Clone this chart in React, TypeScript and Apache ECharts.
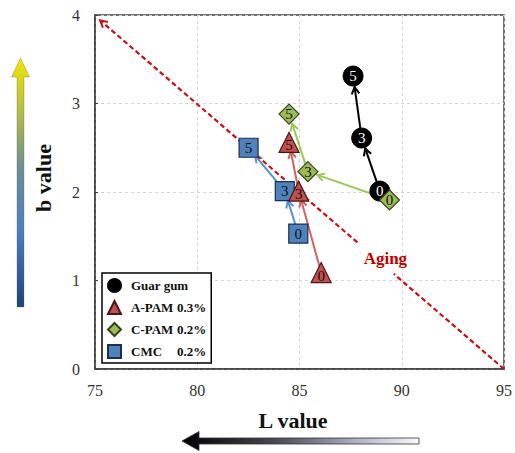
import React, { useEffect, useRef } from 'react';
import * as echarts from 'echarts';

// axis ranges / ticks
const xTicks = [75, 80, 85, 90, 95];
const yTicks = [0, 1, 2, 3, 4];

// storage days (labels in markers)
const days = [0, 3, 5];

// series values (L value, b value) for day 0, 3, 5
const guarL = [88.93, 88.04, 87.62];
const guarB = [2.01, 2.61, 3.31];
const apamL = [86.06, 84.96, 84.49];
const apamB = [1.09, 2.01, 2.56];
const cpamL = [89.4, 85.41, 84.49];
const cpamB = [1.91, 2.23, 2.88];
const cmcL = [84.94, 84.28, 82.51];
const cmcB = [1.53, 2.01, 2.5];

// "Aging" dashed trend line (with gap for the label)
const agingL = [95, 89.61, 87.83, 75.25];
const agingB = [0, 1.075, 1.43, 3.94];
const agingLabelPos = [89.2, 1.25];

const seriesNames = ['Guar gum', 'A-PAM 0.3%', 'C-PAM 0.2%', 'CMC 0.2%'];

const FONT = '"Liberation Serif", "Times New Roman", serif';

const arrowStyles = [
  { color: '#000000', width: 2, endGap: 11, head: true, dash: null as null | number[] },
  { color: '#d2625f', width: 2, endGap: 9, head: true, dash: null },
  { color: '#9dc75c', width: 2, endGap: 10, head: true, dash: null },
  { color: '#5a92d2', width: 2, endGap: 10, head: true, dash: null },
  { color: '#c80f14', width: 2.2, endGap: 0, head: false, dash: [5, 3] },
  { color: '#c80f14', width: 2.2, endGap: 0, head: true, dash: [5, 3] },
];

function segs(L: number[], B: number[], kind: number) {
  const out: number[][] = [];
  for (let i = 0; i < L.length - 1; i++) out.push([L[i], B[i], L[i + 1], B[i + 1], kind]);
  return out;
}

export default function App() {
  const ref = useRef<HTMLDivElement>(null);
  useEffect(() => {
    if (!ref.current) return;
    const chart = echarts.init(ref.current, undefined, { renderer: 'svg' });

    const arrowData = [
      ...segs(guarL, guarB, 0),
      ...segs(apamL, apamB, 1),
      ...segs(cpamL, cpamB, 2),
      ...segs(cmcL, cmcB, 3),
      [agingL[0], agingB[0], agingL[1], agingB[1], 4],
      [agingL[2], agingB[2], agingL[3], agingB[3], 5],
    ];

    const pts = (L: number[], B: number[]) => L.map((l, i) => [l, B[i], days[i]]);

    const labelBase = {
      show: true,
      position: 'inside' as const,
      formatter: (p: any) => String(p.value[2]),
      fontFamily: FONT,
      fontSize: 15,
    };

    const legText = { fontFamily: FONT, fontSize: 13, fontWeight: 'bold', color: '#111', lineHeight: 15 };

    const option: any = {
      animation: false,
      grid: {
        left: 95, right: 7, top: 15, bottom: 84,
        show: true, borderColor: '#404040', borderWidth: 1.5, backgroundColor: 'transparent',
      },
      xAxis: {
        type: 'value', min: xTicks[0], max: xTicks[xTicks.length - 1], interval: 5,
        axisLine: { show: true, lineStyle: { color: '#404040', width: 1.5 } },
        axisTick: { show: false },
        axisLabel: { fontFamily: FONT, fontSize: 16, color: '#333', margin: 13 },
        splitLine: { show: true, lineStyle: { color: '#d4d4d4', type: [3, 3], width: 1 } },
      },
      yAxis: {
        type: 'value', min: yTicks[0], max: yTicks[yTicks.length - 1], interval: 1,
        axisLine: { show: true, lineStyle: { color: '#404040', width: 1.5 } },
        axisTick: { show: true, inside: true, length: 3, lineStyle: { color: '#404040' } },
        axisLabel: { fontFamily: FONT, fontSize: 16, color: '#333', margin: 15 },
        splitLine: { show: true, lineStyle: { color: '#d4d4d4', type: [3, 3], width: 1 } },
      },
      legend: {
        data: seriesNames.map((n) => ({ name: n })),
        orient: 'vertical',
        left: 102, top: 273,
        padding: [5, 5, 4, 5],
        itemWidth: 13, itemHeight: 13, itemGap: 7,
        borderColor: '#000', borderWidth: 1.5, backgroundColor: '#fff',
        selectedMode: false,
        formatter: (name: string) => {
          if (name === 'Guar gum') return '{s|}{n|' + name + '}';
          const k = name.lastIndexOf(' ');
          return '{s|}{n|' + name.slice(0, k) + '}{v|' + name.slice(k + 1) + '}';
        },
        textStyle: {
          ...legText,
          rich: {
            s: { ...legText, width: 5 },
            n: { ...legText, width: 46 },
            v: { ...legText },
          },
        },
      },
      series: [
        {
          type: 'custom',
          name: 'arrows',
          z: 1,
          silent: true,
          encode: { x: [0, 2], y: [1, 3] },
          data: arrowData,
          renderItem: (_params: any, api: any) => {
            const k = api.value(4);
            const st = arrowStyles[k];
            const p1 = api.coord([api.value(0), api.value(1)]);
            const p2 = api.coord([api.value(2), api.value(3)]);
            const dx = p2[0] - p1[0];
            const dy = p2[1] - p1[1];
            const len = Math.hypot(dx, dy) || 1;
            const ux = dx / len;
            const uy = dy / len;
            const ex = p2[0] - ux * st.endGap;
            const ey = p2[1] - uy * st.endGap;
            const children: any[] = [
              {
                type: 'line',
                shape: { x1: p1[0], y1: p1[1], x2: ex, y2: ey },
                style: { stroke: st.color, lineWidth: st.width, lineDash: st.dash || undefined, fill: null },
              },
            ];
            if (st.head) {
              const hl = 7;
              const hw = 3.8;
              children.push({
                type: 'polyline',
                shape: {
                  points: [
                    [ex - ux * hl - uy * hw, ey - uy * hl + ux * hw],
                    [ex, ey],
                    [ex - ux * hl + uy * hw, ey - uy * hl - ux * hw],
                  ],
                },
                style: { stroke: st.color, lineWidth: 2, fill: null },
              });
            }
            return { type: 'group', children };
          },
        },
        {
          type: 'scatter',
          name: 'Guar gum',
          z: 3,
          symbol: 'circle',
          symbolSize: 20,
          itemStyle: { color: '#000', borderColor: '#000', borderWidth: 1, opacity: 1 },
          label: { ...labelBase, color: '#fff' },
          data: pts(guarL, guarB),
        },
        {
          type: 'scatter',
          name: 'CMC 0.2%',
          z: 4,
          symbol: 'rect',
          symbolSize: 19,
          itemStyle: { color: '#4f81bd', borderColor: '#1d2f4a', borderWidth: 1.2, opacity: 1 },
          label: { ...labelBase, color: '#111' },
          data: pts(cmcL, cmcB),
        },
        {
          type: 'scatter',
          name: 'A-PAM 0.3%',
          z: 5,
          symbol: 'triangle',
          symbolSize: 20,
          itemStyle: { color: '#c0504d', borderColor: '#4a1515', borderWidth: 1.2, opacity: 1 },
          label: { ...labelBase, color: '#111', offset: [0, 3] },
          data: pts(apamL, apamB),
        },
        {
          type: 'scatter',
          name: 'C-PAM 0.2%',
          z: 6,
          symbol: 'diamond',
          symbolSize: 20,
          itemStyle: { color: '#9bbb59', borderColor: '#35431a', borderWidth: 1.2, opacity: 1 },
          label: { ...labelBase, color: '#111' },
          data: pts(cpamL, cpamB),
        },
        {
          type: 'scatter',
          name: 'Aging',
          z: 2,
          silent: true,
          symbolSize: 1,
          itemStyle: { color: 'rgba(0,0,0,0)', opacity: 1 },
          label: {
            show: true, position: 'inside', formatter: 'Aging',
            fontFamily: FONT, fontSize: 17, fontWeight: 'bold', color: '#c00000',
          },
          data: [agingLabelPos],
        },
      ],
      graphic: [
        {
          type: 'polygon',
          shape: {
            points: [[17, 307], [24, 307], [24, 77], [29.5, 77], [20.5, 58], [11.5, 77], [17, 77]],
          },
          style: {
            fill: new echarts.graphic.LinearGradient(0, 1, 0, 0, [
              { offset: 0, color: '#1f4478' },
              { offset: 0.3, color: '#4a7fbf' },
              { offset: 0.55, color: '#6a8e98' },
              { offset: 0.75, color: '#a8b850' },
              { offset: 1, color: '#f4e600' },
            ]),
            stroke: 'rgba(90,90,60,0.5)',
            lineWidth: 0.6,
          },
        },
        {
          type: 'polygon',
          shape: {
            points: [[182, 441], [199, 431.5], [199, 438], [419, 438], [419, 444], [199, 444], [199, 450.5]],
          },
          style: {
            fill: new echarts.graphic.LinearGradient(0, 0, 1, 0, [
              { offset: 0, color: '#000000' },
              { offset: 0.4, color: '#4a4a58' },
              { offset: 0.75, color: '#b4b4cc' },
              { offset: 1, color: '#fafaff' },
            ]),
            stroke: '#333',
            lineWidth: 0.8,
          },
        },
        {
          type: 'text',
          x: 293, y: 420,
          style: {
            text: 'L value', fontFamily: FONT, fontSize: 22, fontWeight: 'bold', fill: '#111',
            align: 'center', verticalAlign: 'middle',
          },
        },
        {
          type: 'text',
          x: 43, y: 178,
          rotation: Math.PI / 2,
          style: {
            text: 'b value', fontFamily: FONT, fontSize: 22, fontWeight: 'bold', fill: '#111',
            align: 'center', verticalAlign: 'middle',
          },
        },
      ],
    };

    chart.setOption(option);
    return () => chart.dispose();
  }, []);

  return (
    <div
      ref={ref}
      style={{ position: 'absolute', left: 0, top: 0, width: 515, height: 453, background: '#fff' }}
    />
  );
}
